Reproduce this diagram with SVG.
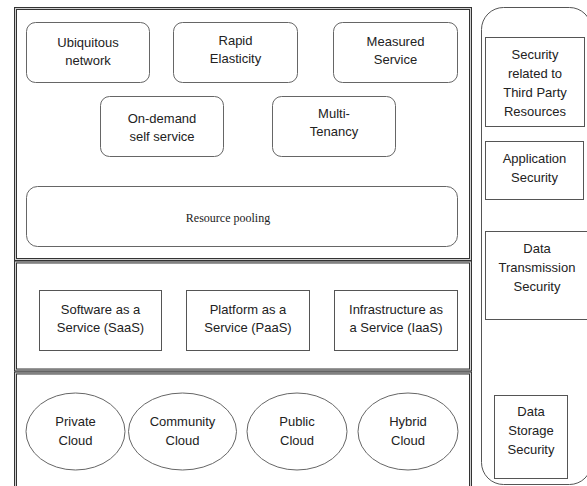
<svg xmlns="http://www.w3.org/2000/svg" width="587" height="486" viewBox="0 0 587 486">
<style>
.frame{fill:none;stroke:#333;stroke-width:3}
.frameIn{fill:none;stroke:#d0d0d0;stroke-width:1}
.rnd{fill:#fff;stroke:#666;stroke-width:1}
.box{fill:#fff;stroke:#555;stroke-width:1}
.ell{fill:#fff;stroke:#666;stroke-width:1}
.panel{fill:#fff;stroke:#555;stroke-width:1}
text{font-family:"Liberation Sans",Arial,sans-serif;font-size:13px;fill:#222;text-anchor:middle}
text.serif{font-family:"Liberation Serif","Times New Roman",serif;font-size:12px}
</style>
<rect width="587" height="486" fill="#fff"/>
<!-- layer frames -->
<g id="layer-characteristics">
<rect class="frame" x="15.5" y="8.5" width="455" height="251"/>
<rect class="frameIn" x="15.5" y="8.5" width="455" height="251"/>
</g>
<g id="layer-services">
<rect class="frame" x="15.5" y="262" width="455" height="108"/>
<rect class="frameIn" x="15.5" y="262" width="455" height="108"/>
</g>
<g id="layer-deployment">
<rect class="frame" x="15.5" y="373" width="455" height="130"/>
<rect class="frameIn" x="15.5" y="373" width="455" height="130"/>
</g>
<g id="security-panel">
<rect class="panel" x="481.5" y="7.5" width="110" height="477" rx="22" ry="22"/>
</g>
<!-- characteristics -->
<g id="ubiquitous">
<rect class="rnd" x="26.5" y="22.5" width="123" height="60" rx="9"/>
<text x="88" y="47">Ubiquitous</text><text x="88" y="65">network</text>
</g>
<g id="rapid">
<rect class="rnd" x="173.5" y="22.5" width="124" height="60" rx="9"/>
<text x="235.5" y="45">Rapid</text><text x="235.5" y="63">Elasticity</text>
</g>
<g id="measured">
<rect class="rnd" x="333.5" y="22.5" width="124" height="60" rx="9"/>
<text x="395.5" y="46">Measured</text><text x="395.5" y="64">Service</text>
</g>
<g id="ondemand">
<rect class="rnd" x="100.5" y="96.5" width="123" height="60" rx="9"/>
<text x="162" y="123">On-demand</text><text x="162" y="141">self service</text>
</g>
<g id="multitenancy">
<rect class="rnd" x="272.5" y="96.5" width="123" height="60" rx="9"/>
<text x="334" y="118">Multi-</text><text x="334" y="136">Tenancy</text>
</g>
<g id="resource-pooling">
<rect class="rnd" x="26.5" y="186.5" width="431" height="60" rx="11"/>
<text class="serif" x="228" y="222">Resource pooling</text>
</g>
<!-- services -->
<g id="saas">
<rect class="box" x="39.5" y="290.5" width="122" height="60"/>
<text x="100.5" y="314">Software as a</text><text x="100.5" y="332">Service (SaaS)</text>
</g>
<g id="paas">
<rect class="box" x="186.5" y="290.5" width="123" height="60"/>
<text x="248" y="314">Platform as a</text><text x="248" y="332">Service (PaaS)</text>
</g>
<g id="iaas">
<rect class="box" x="334.5" y="290.5" width="123" height="60"/>
<text x="396" y="314">Infrastructure as</text><text x="396" y="332">a Service (IaaS)</text>
</g>
<!-- deployment -->
<g id="private">
<ellipse class="ell" cx="75.5" cy="431.5" rx="49.5" ry="38.5"/>
<text x="75.5" y="426">Private</text><text x="75.5" y="445">Cloud</text>
</g>
<g id="community">
<ellipse class="ell" cx="182.5" cy="431.5" rx="54" ry="38.5"/>
<text x="182.5" y="426">Community</text><text x="182.5" y="445">Cloud</text>
</g>
<g id="public">
<ellipse class="ell" cx="297" cy="431.5" rx="50" ry="38.5"/>
<text x="297" y="426">Public</text><text x="297" y="445">Cloud</text>
</g>
<g id="hybrid">
<ellipse class="ell" cx="408" cy="431.5" rx="50" ry="38.5"/>
<text x="408" y="426">Hybrid</text><text x="408" y="445">Cloud</text>
</g>
<!-- security -->
<g id="third-party">
<rect class="box" x="485.5" y="37.5" width="99" height="89"/>
<text x="535" y="59">Security</text><text x="535" y="78">related to</text><text x="535" y="97">Third Party</text><text x="535" y="116">Resources</text>
</g>
<g id="application">
<rect class="box" x="485.5" y="141.5" width="98" height="58"/>
<text x="534.5" y="163">Application</text><text x="534.5" y="182">Security</text>
</g>
<g id="transmission">
<rect class="box" x="485.5" y="231.5" width="105" height="88"/>
<text x="537" y="253">Data</text><text x="537" y="272">Transmission</text><text x="537" y="291">Security</text>
</g>
<g id="storage">
<rect class="box" x="494.5" y="395.5" width="73" height="83"/>
<text x="531" y="416">Data</text><text x="531" y="435">Storage</text><text x="531" y="454">Security</text>
</g>
<g id="connectors"></g>
</svg>
